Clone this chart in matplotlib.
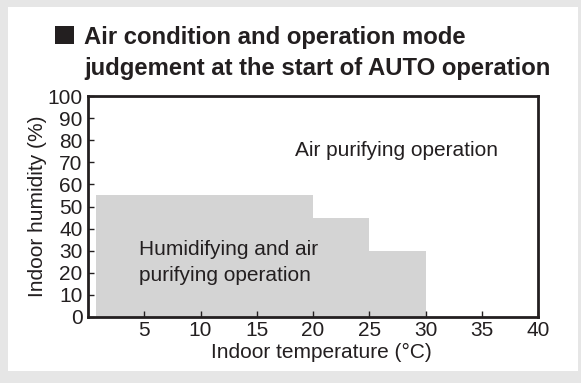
import matplotlib
matplotlib.use("Agg")
import matplotlib.pyplot as plt
from matplotlib.patches import Rectangle

# Zone boundaries: temperature steps and the humidity limit for each step
temp_edges = [0.75, 20, 25, 30]
humidity_limits = [55, 45, 30]

x_ticks = [5, 10, 15, 20, 25, 30, 35, 40]
y_ticks = [0, 10, 20, 30, 40, 50, 60, 70, 80, 90, 100]

title_lines = ["Air condition and operation mode",
               "judgement at the start of AUTO operation"]
zone_upper = "Air purifying operation"
zone_lower = "Humidifying and air\npurifying operation"

ink = "#231f20"
fill = "#d4d4d4"
plt.rcParams["font.family"] = ["Liberation Sans", "DejaVu Sans"]

W, H = 581, 383
fig = plt.figure(figsize=(W / 100, H / 100), dpi=100, facecolor="#e6e6e6")

# white card behind the chart
fig.patches.append(Rectangle((8 / W, 1 - 371 / H), 570 / W, 364 / H,
                             transform=fig.transFigure, facecolor="white",
                             edgecolor="none", zorder=-2))

# title with a filled square bullet
fig.patches.append(Rectangle((55 / W, 1 - 44 / H), 19 / W, 18 / H,
                             transform=fig.transFigure, facecolor=ink,
                             edgecolor="none", zorder=1))
fig.text(84 / W, 1 - 44 / H, title_lines[0], fontsize=17.2, fontweight="bold",
         color=ink, ha="left", va="baseline")
fig.text(84 / W, 1 - 75 / H, title_lines[1], fontsize=17.2, fontweight="bold",
         color=ink, ha="left", va="baseline")

ax = fig.add_axes([88 / W, 1 - 317 / H, 450 / W, 221 / H])
ax.set_xlim(0, 40)
ax.set_ylim(0, 100)

# stepped humidifying zone
for i, h in enumerate(humidity_limits):
    ax.bar(temp_edges[i], h, width=temp_edges[i + 1] - temp_edges[i],
           align="edge", color=fill, edgecolor="none", zorder=1)

ax.set_xticks(x_ticks)
ax.set_yticks(y_ticks)
ax.tick_params(direction="in", length=4, width=1, color=ink, labelcolor=ink,
               labelsize=15, pad=4)
ax.tick_params(axis="x", pad=3)
for s in ax.spines.values():
    s.set_linewidth(2)
    s.set_color(ink)
    s.set_zorder(3)

ax.set_xlabel("Indoor temperature (°C)", fontsize=15, color=ink)
ax.xaxis.set_label_coords(0.518, -0.16)
ax.xaxis.label.set_va("center")
ax.set_ylabel("Indoor humidity (%)", fontsize=15, color=ink, labelpad=0)

ax.text(18.4, 75.5, zone_upper, fontsize=15, color=ink, ha="left", va="center")
ax.text(4.5, 24.5, zone_lower, fontsize=15, color=ink, ha="left", va="center",
        linespacing=1.45)

fig.savefig("out.png", dpi=100, facecolor=fig.get_facecolor())
